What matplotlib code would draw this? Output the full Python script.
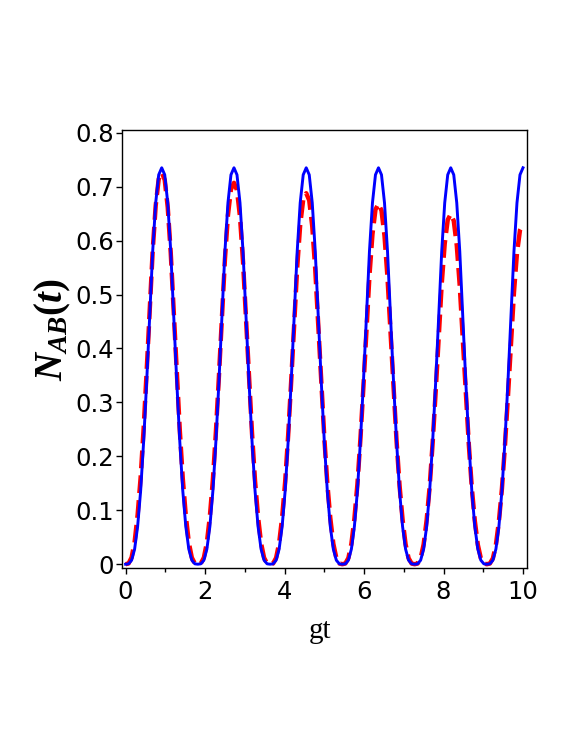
import numpy as np
import matplotlib
matplotlib.use("Agg")
import matplotlib.pyplot as plt
from matplotlib.ticker import FixedLocator, FuncFormatter

plt.rcParams["mathtext.fontset"] = "custom"
plt.rcParams["mathtext.rm"] = "Liberation Serif:bold"
plt.rcParams["mathtext.it"] = "Liberation Serif:italic:bold"

# sample times (gt) for both curves
gt = np.linspace(0.0, 10.0, 133)

# N_AB(t), blue solid curve
n_blue = [
    0.0, 0.0007, 0.0074, 0.028, 0.070, 0.136, 0.228, 0.338, 0.458, 0.580, 0.670, 0.722,
    0.735, 0.722, 0.670, 0.580, 0.458, 0.338, 0.228, 0.136, 0.070, 0.028, 0.0074, 0.0007,
    0.0, 0.0007, 0.0074, 0.028, 0.070, 0.136, 0.228, 0.338, 0.458, 0.580, 0.670, 0.722,
    0.735, 0.722, 0.670, 0.580, 0.458, 0.338, 0.228, 0.136, 0.070, 0.028, 0.0074, 0.0007,
    0.0, 0.0007, 0.0074, 0.028, 0.070, 0.136, 0.228, 0.338, 0.458, 0.580, 0.670, 0.722,
    0.735, 0.722, 0.670, 0.580, 0.458, 0.338, 0.228, 0.136, 0.070, 0.028, 0.0074, 0.0007,
    0.0, 0.0007, 0.0074, 0.028, 0.070, 0.136, 0.228, 0.338, 0.458, 0.580, 0.670, 0.722,
    0.735, 0.722, 0.670, 0.580, 0.458, 0.338, 0.228, 0.136, 0.070, 0.028, 0.0074, 0.0007,
    0.0, 0.0007, 0.0074, 0.028, 0.070, 0.136, 0.228, 0.338, 0.458, 0.580, 0.670, 0.722,
    0.735, 0.722, 0.670, 0.580, 0.458, 0.338, 0.228, 0.136, 0.070, 0.028, 0.0074, 0.0007,
    0.0, 0.0007, 0.0074, 0.028, 0.070, 0.136, 0.228, 0.338, 0.458, 0.580, 0.670, 0.722,
    0.735,
]

# N_AB(t), red dashed curve (slowly decaying peaks)
n_red = [
    0.0, 0.0015, 0.0125, 0.0411, 0.0916, 0.1610, 0.2523, 0.3579, 0.4706, 0.5809, 0.6647, 0.7141,
    0.7264, 0.7125, 0.6617, 0.5770, 0.4665, 0.3539, 0.2489, 0.1586, 0.0900, 0.0403, 0.0122, 0.0014,
    0.0, 0.0014, 0.0122, 0.0400, 0.0892, 0.1568, 0.2456, 0.3484, 0.4581, 0.5655, 0.6470, 0.6952,
    0.7071, 0.6936, 0.6441, 0.5616, 0.4540, 0.3445, 0.2423, 0.1543, 0.0876, 0.0392, 0.0119, 0.0014,
    0.0, 0.0014, 0.0118, 0.0389, 0.0868, 0.1525, 0.2389, 0.3390, 0.4457, 0.5501, 0.6294, 0.6762,
    0.6878, 0.6746, 0.6265, 0.5463, 0.4416, 0.3351, 0.2356, 0.1501, 0.0852, 0.0381, 0.0116, 0.0014,
    0.0, 0.0014, 0.0115, 0.0378, 0.0844, 0.1483, 0.2323, 0.3296, 0.4333, 0.5348, 0.6119, 0.6574,
    0.6686, 0.6557, 0.6089, 0.5309, 0.4291, 0.3256, 0.2290, 0.1458, 0.0828, 0.0370, 0.0112, 0.0013,
    0.0, 0.0013, 0.0112, 0.0368, 0.0820, 0.1441, 0.2257, 0.3201, 0.4209, 0.5194, 0.5943, 0.6384,
    0.6493, 0.6368, 0.5914, 0.5156, 0.4167, 0.3162, 0.2224, 0.1416, 0.0804, 0.0360, 0.0109, 0.0013,
    0.0, 0.0013, 0.0108, 0.0357, 0.0796, 0.1398, 0.2190, 0.3107, 0.4084, 0.5040, 0.5767, 0.6194,
    0.6300,
]

x_ticks = [0, 2, 4, 6, 8, 10]
x_minor = [1, 3, 5, 7, 9]
y_ticks = [0, 0.1, 0.2, 0.3, 0.4, 0.5, 0.6, 0.7, 0.8]

fig = plt.figure(figsize=(5.81, 7.52), dpi=100)
ax = fig.add_axes([0.21, 0.2447, 0.697, 0.5824])

ax.plot(gt, n_red, color="#ff0000", lw=3.2, dashes=(4.0, 1.6),
        dash_capstyle="butt", solid_joinstyle="round", zorder=2)
ax.plot(gt, n_blue, color="#0000ff", lw=2.1, solid_joinstyle="round", zorder=3)

ax.set_xlim(-0.09, 10.1)
ax.set_ylim(-0.007, 0.805)

ax.xaxis.set_major_locator(FixedLocator(x_ticks))
ax.xaxis.set_minor_locator(FixedLocator(x_minor))
ax.yaxis.set_major_locator(FixedLocator(y_ticks))
ax.xaxis.set_major_formatter(FuncFormatter(lambda v, p: f"{v:.0f}"))
ax.yaxis.set_major_formatter(FuncFormatter(lambda v, p: "0" if v == 0 else f"{v:.1f}"))

ax.tick_params(axis="both", which="major", direction="out", length=4, width=1,
               labelsize=17.5, colors="black")
ax.tick_params(axis="x", which="major", pad=5)
ax.tick_params(axis="y", which="major", pad=1.5)
ax.tick_params(axis="x", which="minor", direction="out", length=3, width=1)
ax.tick_params(top=False, right=False)

for s in ax.spines.values():
    s.set_linewidth(1.0)
    s.set_color("black")

ax.set_xlabel("gt", fontsize=21, family="Liberation Serif")
ax.xaxis.set_label_coords(0.49, -0.115)
ax.set_ylabel(r"$N_{AB}(t)$", fontsize=28)
ax.yaxis.set_label_coords(-0.12, 0.545)

fig.savefig("out.png", dpi=100, facecolor="white")
